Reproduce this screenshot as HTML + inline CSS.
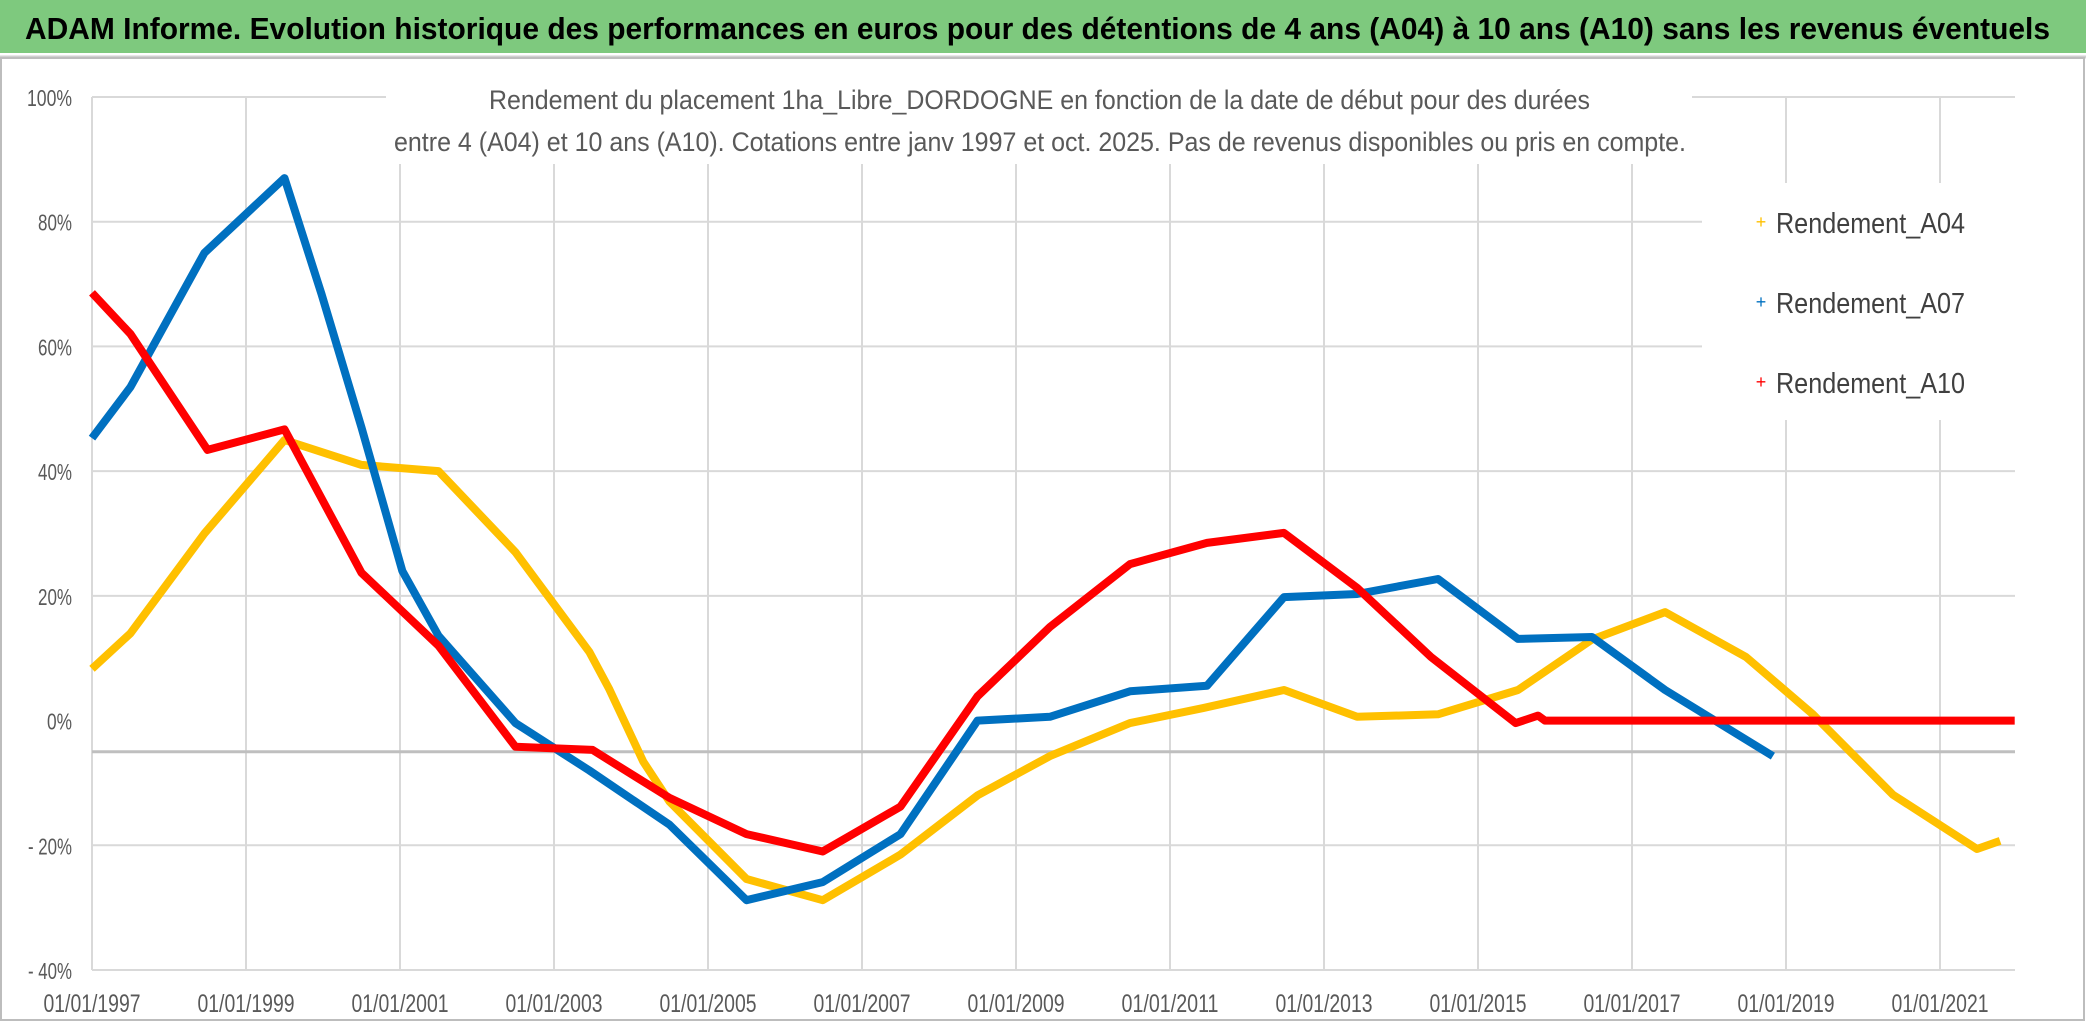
<!DOCTYPE html>
<html><head><meta charset="utf-8"><style>
html,body{margin:0;padding:0;background:#fff;}
svg{display:block;font-family:"Liberation Sans",sans-serif;}
</style></head><body>
<svg id="chart" width="2086" height="1032" viewBox="0 0 2086 1032" xmlns="http://www.w3.org/2000/svg">
<rect x="0" y="0" width="2086" height="1032" fill="#fff"/>
<rect x="0" y="0" width="2086" height="53" fill="#7ec97e"/>
<line x1="0" y1="57" x2="2086" y2="57" stroke="#d0d0d0" stroke-width="3"/>
<text x="25" y="39" font-size="31" font-weight="bold" fill="#000" textLength="2025" lengthAdjust="spacingAndGlyphs">ADAM Informe. Evolution historique des performances en euros pour des détentions de 4 ans (A04) à 10 ans (A10) sans les revenus éventuels</text>
<rect x="1" y="58" width="2083" height="962" fill="none" stroke="#bdbdbd" stroke-width="2"/>
<g id="grid"></g>
<g id="series"></g>
<rect x="386" y="72" width="1306" height="92" fill="#fff"/>
<text x="489" y="109" font-size="27" fill="#595959" textLength="1101" lengthAdjust="spacingAndGlyphs">Rendement du placement 1ha_Libre_DORDOGNE en fonction de la date de début pour des durées</text>
<text x="394" y="151" font-size="27" fill="#595959" textLength="1292" lengthAdjust="spacingAndGlyphs">entre 4 (A04) et 10 ans (A10). Cotations entre janv 1997 et oct. 2025. Pas de revenus disponibles ou pris en compte.</text>
<g id="legend"></g>
</svg>
<script>
const years = [1997,1999,2001,2003,2005,2007,2009,2011,2013,2015,2017,2019,2021];
const yTicks = [100,80,60,40,20,0,-20,-40];
const yLabels = ["100%","80%","60%","40%","20%","0%","- 20%","- 40%"];
const seriesNames = ["Rendement_A04","Rendement_A07","Rendement_A10"];
const a04Dates = [1997,1997.5,1998.46,1999.5,2000.5,2001.5,2002.5,2003.46,2003.72,2004.16,2004.5,2005.5,2006.49,2007.5,2008.5,2009.44,2010.48,2011.43,2012.48,2013.43,2014.48,2015.52,2016.48,2017.43,2018.48,2019.35,2020.39,2021.48,2021.78];
const a04Values = [8.3,14,30,45,41,40,27,11,5,-6.6,-13,-25.4,-28.8,-21.5,-12,-5.7,-0.4,2,4.9,0.6,1,4.9,13,17.4,10.2,1,-11.9,-20.6,-19.3];
const a07Dates = [1997,1997.5,1998.46,1999.5,1999.98,2000.5,2001.03,2001.5,2002.5,2003.46,2004.5,2005.5,2006.49,2007.5,2008.5,2009.44,2010.48,2011.48,2012.48,2013.43,2014.48,2015.52,2016.48,2017.43,2018.83];
const a07Values = [45.3,53.5,75,87,68.4,47,24,13.6,-0.4,-8,-16.7,-28.8,-25.9,-18.2,0,0.6,4.7,5.6,19.8,20.3,22.7,13.1,13.4,4.9,-5.7];
const a10Dates = [1997,1997.5,1998.5,1999.5,2000.5,2001.5,2002.5,2003.5,2004.5,2005.5,2006.49,2007.5,2008.5,2009.44,2010.48,2011.48,2012.48,2013.43,2014.39,2015.49,2015.78,2015.87,2021.97];
const a10Values = [68.6,62,43.4,46.7,23.7,12,-4.2,-4.7,-12.4,-18.2,-21,-13.8,3.9,15,25.1,28.5,30.1,21.3,10.2,-0.4,0.8,0,0];

const NS="http://www.w3.org/2000/svg";
const L=92,R=2015,T=97,B=970;
function xs(yr){return 92+(yr-1997)*77;}
function ys(v){return B-(v+40)*(B-T)/140;}
function mk(tag,attrs,parent){const e=document.createElementNS(NS,tag);for(const k in attrs)e.setAttribute(k,attrs[k]);parent.appendChild(e);return e;}
const grid=document.getElementById('grid');
const yLabelWidths=[45,34,34,34,34,25,44,44];
yTicks.forEach((v,i)=>{
  if(v!==0){
    const ln=mk('line',{x1:L,x2:R,y1:ys(v),y2:ys(v),stroke:'#d9d9d9','stroke-width':2},grid);
    
    
  }
  const t=mk('text',{x:72-yLabelWidths[i],y:ys(v)+9,'font-size':23,fill:'#595959',textLength:yLabelWidths[i],lengthAdjust:'spacingAndGlyphs'},grid);
  t.textContent=yLabels[i];
  
  
});
years.forEach(yr=>{
  const ln=mk('line',{x1:xs(yr),x2:xs(yr),y1:T,y2:B,stroke:'#d9d9d9','stroke-width':2},grid);
  
  
  const t=mk('text',{x:xs(yr),y:1012,'font-size':25,fill:'#595959','text-anchor':'middle',textLength:97,lengthAdjust:'spacingAndGlyphs'},grid);
  t.textContent='01/01/'+yr;
  
  
});
const ax=mk('line',{x1:L,x2:R,y1:ys(-5),y2:ys(-5),stroke:'#bfbfbf','stroke-width':3},grid);



const ser=document.getElementById('series');
const sets=[[a04Dates,a04Values,'#ffc000','line-a04'],[a07Dates,a07Values,'#0070c0','line-a07'],[a10Dates,a10Values,'#ff0000','line-a10']];
sets.forEach(s=>{
  const pts=s[0].map((d,i)=>xs(d).toFixed(1)+','+ys(s[1][i]).toFixed(1)).join(' ');
  const p=mk('polyline',{points:pts,fill:'none',stroke:s[2],'stroke-width':8,'stroke-linejoin':'round'},ser);
  
  
});

const lg=document.getElementById('legend');
const bg=mk('rect',{x:1702,y:183,width:313,height:237,fill:'#fff'},lg);


seriesNames.forEach((n,i)=>{
  const y=222+i*80;
  const m=mk('text',{x:1761,y:y+6,'font-size':18,fill:sets[i][2],'text-anchor':'middle'},lg);
  m.textContent='+';
  
  
  const t=mk('text',{x:1776,y:y+11,'font-size':29,fill:'#404040',textLength:189,lengthAdjust:'spacingAndGlyphs'},lg);
  t.textContent=n;
  
  
});
</script>
</body></html>
